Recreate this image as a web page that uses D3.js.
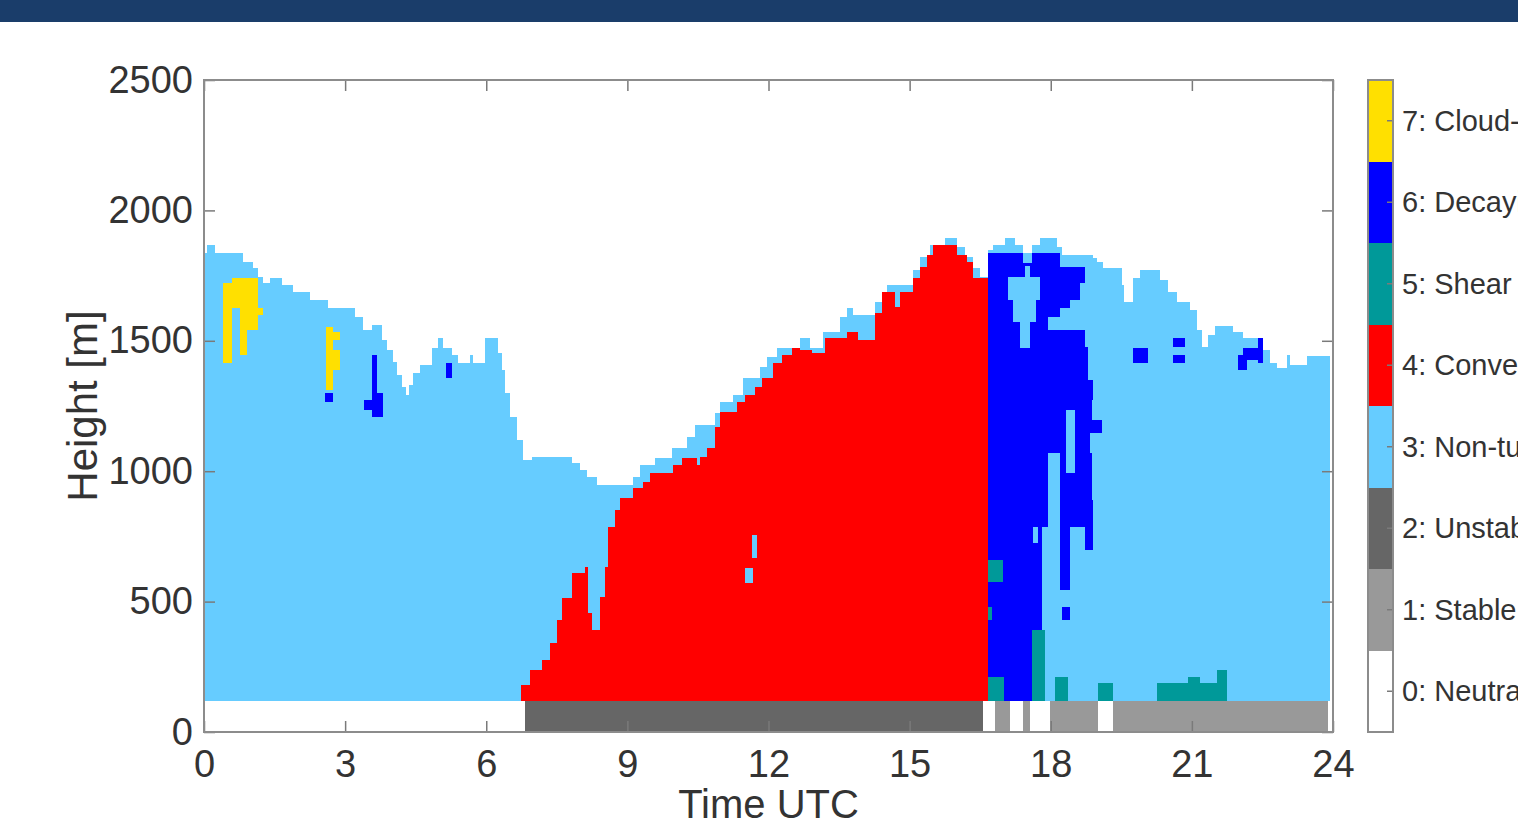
<!DOCTYPE html>
<html>
<head>
<meta charset="utf-8">
<script src="https://cdn.jsdelivr.net/npm/d3@7"></script>
<style>
  html, body { margin: 0; padding: 0; background: #fff; overflow: hidden; }
  svg { display: block; font-family: 'Liberation Sans', Arial, sans-serif; }
</style>
</head>
<body>
<svg id="chart" width="1518" height="828"></svg>
<script>
// class labels / colours (0 = bottom of the colour bar)
const classNames = ['0: Neutral', '1: Stable', '2: Unstable', '3: Non-turbulent',
  '4: Convective', '5: Shear driven', '6: Decaying', '7: Cloud-driven'];
const classColors = ['#ffffff', '#999999', '#666666', '#66ccff', '#ff0000', '#009999', '#0000ff', '#ffe000'];

const hourTicks = [0, 3, 6, 9, 12, 15, 18, 21, 24];
const heightTicks = [0, 500, 1000, 1500, 2000, 2500];
const surfaceTop = 120;

// top of the boundary layer (non-turbulent class) [hour, m]
const layerTop = [[0,1836],[0.06,1867],[0.23,1836],[0.83,1802],[1.04,1779],[1.15,1745],[1.25,1721],[1.40,1741],
  [1.66,1714],[1.89,1687],[2.25,1656],[2.64,1626],[3.21,1591],[3.38,1541],[3.57,1560],[3.78,1503],[3.89,1465],
  [4.02,1419],[4.10,1369],[4.21,1323],[4.29,1292],[4.36,1330],[4.44,1376],[4.59,1407],[4.85,1472],[4.97,1511],
  [5.08,1472],[5.27,1445],[5.40,1415],[5.65,1445],[5.72,1415],[5.97,1511],[6.25,1453],[6.34,1388],[6.40,1300],
  [6.51,1208],[6.65,1120],[6.78,1043],[6.97,1054],[7.82,1031],[7.99,1004],[8.14,978],[8.35,947],[9.12,978],
  [9.27,1024],[9.59,1050],[9.95,1089],[10.27,1131],[10.44,1177],[10.86,1223],[10.97,1265],[11.25,1292],
  [11.46,1357],[11.82,1399],[11.97,1438],[12.18,1472],[12.67,1511],[12.88,1472],[13.16,1534],[13.52,1591],
  [13.67,1626],[13.80,1599],[14.26,1649],[14.41,1687],[14.52,1714],[15.07,1771],[15.22,1821],[15.43,1867],
  [15.75,1894],[16.01,1860],[16.18,1821],[16.35,1779],[16.50,1745],[16.67,1848],[16.77,1867],[17.03,1894],
  [17.24,1867],[17.41,1829],[17.60,1867],[17.77,1894],[18.13,1860],[18.24,1829],[18.90,1817],[18.98,1802],
  [19.11,1779],[19.52,1714],[19.56,1649],[19.75,1741],[19.90,1771],[20.32,1733],[20.49,1687],[20.68,1649],
  [20.96,1618],[21.11,1541],[21.22,1476],[21.34,1522],[21.49,1557],[21.87,1534],[22.09,1511],[22.51,1465],
  [22.66,1415],[22.81,1396],[23.02,1445],[23.09,1407],[23.45,1442],[23.94,1442]];

// top of convective mixing [hour, m]
const convTop = [[6.74,180],[6.93,238],[7.19,276],[7.36,341],[7.50,429],[7.61,514],[7.82,610],[8.10,633],
  [8.16,456],[8.25,391],[8.42,518],[8.52,633],[8.59,786],[8.74,851],[8.84,897],[9.12,935],[9.33,959],
  [9.48,993],[9.97,1024],[10.16,1050],[10.48,1024],[10.54,1054],[10.69,1089],[10.86,1169],[10.97,1227],
  [11.33,1265],[11.50,1292],[11.71,1323],[11.86,1357],[12.10,1415],[12.29,1445],[12.50,1472],[12.67,1465],
  [12.93,1453],[13.20,1511],[13.67,1534],[13.90,1503],[14.26,1606],[14.41,1687],[14.69,1629],[14.80,1687],
  [15.07,1741],[15.22,1783],[15.37,1829],[15.50,1867],[16.01,1829],[16.22,1802],[16.35,1741],[16.67,1741]];

// decaying turbulence: starts at 16.67 h, right edge per height [m, hour]
const decayStart = 16.67;
const decayEdge = [[120,17.81],[786,17.94],[1070,18.83],[1146,19.09],[1196,18.88],[1273,18.90],[1350,18.79],
  [1476,18.73],[1541,17.94],[1591,18.20],[1626,18.41],[1656,18.62],[1721,18.73],[1783,18.20],[1836,18.20]];

// smaller patches [class, hour from, hour to, m from, m to]
const patches = [
  [7,0.40,0.60,1415,1721],[7,0.60,1.15,1626,1741],[7,0.77,0.91,1445,1626],[7,0.91,1.15,1541,1626],
  [7,1.15,1.25,1599,1626],[7,2.59,2.74,1311,1553],[7,2.74,2.89,1503,1534],[7,2.74,2.89,1388,1465],
  [6,2.57,2.74,1265,1300],[6,3.57,3.68,1300,1445],[6,3.40,3.57,1235,1273],[6,3.57,3.81,1208,1300],
  [6,5.14,5.27,1357,1415],
  [3,11.65,11.75,667,755],[3,11.49,11.66,571,629],
  [6,18.20,18.88,850,1070],[6,18.41,18.90,786,889],[6,18.20,18.41,544,851],[6,18.73,18.90,698,786],
  [6,18.24,18.41,429,479],
  [3,17.09,17.77,1656,1745],[3,17.20,17.69,1572,1656],[3,17.35,17.56,1472,1572],[3,17.45,17.56,1741,1787],
  [3,17.41,17.60,1798,1836],[3,18.33,18.52,993,1235],[3,17.62,17.73,725,786],
  [5,16.67,16.98,575,660],[5,16.67,16.75,429,479],[5,16.67,17.00,120,211],[5,17.60,17.88,120,391],
  [5,18.09,18.37,120,211],[5,19.00,19.32,120,188],[5,20.26,21.75,120,188],[5,20.92,21.17,188,211],
  [5,21.53,21.75,188,238],
  [6,19.75,20.07,1415,1472],[6,20.60,20.85,1476,1511],[6,20.60,20.85,1415,1445],[6,21.98,22.17,1388,1445],
  [6,22.09,22.51,1426,1472],[6,22.40,22.51,1415,1511]
];

// surface layer stability [class, hour from, hour to]
const surface = [[0,0,6.82],[2,6.82,16.56],[0,16.56,16.82],[1,16.82,17.13],[0,17.13,17.41],[1,17.41,17.56],
  [0,17.56,17.98],[1,17.98,19.0],[0,19.0,19.32],[1,19.32,23.89],[0,23.89,24]];

const svg = d3.select('#chart');
const mLeft = 204, mRight = 1333, mTop = 80, mBottom = 732;

svg.append('rect').attr('x', 0).attr('y', 0).attr('width', 1518).attr('height', 22).attr('fill', '#1a3d6a');

const x = d3.scaleLinear().domain([0, 24]).range([mLeft, mRight]);
const y = d3.scaleLinear().domain([0, 2500]).range([mBottom, mTop]);

const plot = svg.append('g').attr('shape-rendering', 'crispEdges');

// non-turbulent layer
plot.append('path').datum(layerTop)
  .attr('fill', classColors[3])
  .attr('d', d3.area().curve(d3.curveStepAfter).x(d => x(d[0])).y0(y(surfaceTop)).y1(d => y(d[1])));

// convective mixing
plot.append('path').datum(convTop)
  .attr('fill', classColors[4])
  .attr('d', d3.area().curve(d3.curveStepAfter).x(d => x(d[0])).y0(y(surfaceTop)).y1(d => y(d[1])));

// decaying turbulence
plot.append('path').datum(decayEdge)
  .attr('fill', classColors[6])
  .attr('d', d3.area().curve(d3.curveStepBefore).y(d => y(d[0])).x0(x(decayStart)).x1(d => x(d[1])));

plot.selectAll('rect.patch').data(patches).join('rect')
  .attr('class', 'patch')
  .attr('x', d => x(d[1])).attr('width', d => x(d[2]) - x(d[1]))
  .attr('y', d => y(d[4])).attr('height', d => y(d[3]) - y(d[4]))
  .attr('fill', d => classColors[d[0]]);

plot.selectAll('rect.sfc').data(surface).join('rect')
  .attr('class', 'sfc')
  .attr('x', d => x(d[1])).attr('width', d => x(d[2]) - x(d[1]))
  .attr('y', y(surfaceTop)).attr('height', y(0) - y(surfaceTop))
  .attr('fill', d => classColors[d[0]]);

// axes
const tickColor = '#7a7a7a', labelColor = '#333';
function styleAxis(g, size) {
  g.select('.domain').remove();
  g.selectAll('line').attr('stroke', tickColor).attr('stroke-width', 1.5);
  g.selectAll('text').attr('fill', labelColor).attr('font-size', size).attr('font-family', "'Liberation Sans', Arial, sans-serif");
}
svg.append('g').attr('transform', `translate(0,${mBottom})`)
  .call(d3.axisBottom(x).tickValues(hourTicks).tickSize(-11).tickPadding(18).tickFormat(d3.format('d')))
  .call(g => styleAxis(g, 38));
svg.append('g').attr('transform', `translate(0,${mTop})`)
  .call(d3.axisTop(x).tickValues(hourTicks).tickSize(-11).tickFormat(''))
  .call(g => styleAxis(g, 38));
svg.append('g').attr('transform', `translate(${mLeft},0)`)
  .call(d3.axisLeft(y).tickValues(heightTicks).tickSize(-11).tickPadding(11).tickFormat(d3.format('d')))
  .call(g => styleAxis(g, 38));
svg.append('g').attr('transform', `translate(${mRight},0)`)
  .call(d3.axisRight(y).tickValues(heightTicks).tickSize(-11).tickFormat(''))
  .call(g => styleAxis(g, 38));

svg.append('rect').attr('x', mLeft).attr('y', mTop).attr('width', mRight - mLeft).attr('height', mBottom - mTop)
  .attr('fill', 'none').attr('stroke', '#8c8c8c').attr('stroke-width', 2);

svg.append('text').attr('x', (mLeft + mRight) / 2).attr('y', 818).attr('text-anchor', 'middle')
  .attr('font-size', 40).attr('fill', labelColor).text('Time UTC');
svg.append('text').attr('transform', `translate(97,${(mTop + mBottom) / 2}) rotate(-90)`).attr('text-anchor', 'middle')
  .attr('font-size', 42).attr('fill', labelColor).text('Height [m]');

// colour bar
const cb = d3.scaleLinear().domain([0, classNames.length]).range([mBottom, mTop]);
const cbX = 1368, cbW = 25;
const cbar = svg.append('g');
cbar.selectAll('rect').data(classNames).join('rect')
  .attr('x', cbX).attr('width', cbW)
  .attr('y', (d, i) => cb(i + 1)).attr('height', (d, i) => cb(i) - cb(i + 1))
  .attr('fill', (d, i) => classColors[i]).attr('shape-rendering', 'crispEdges');
cbar.selectAll('line').data(classNames).join('line')
  .attr('x1', cbX + cbW - 6).attr('x2', cbX + cbW)
  .attr('y1', (d, i) => cb(i + 0.5)).attr('y2', (d, i) => cb(i + 0.5))
  .attr('stroke', tickColor).attr('stroke-width', 1.5);
cbar.append('rect').attr('x', cbX).attr('y', mTop).attr('width', cbW).attr('height', mBottom - mTop)
  .attr('fill', 'none').attr('stroke', '#8c8c8c').attr('stroke-width', 2);
cbar.selectAll('text').data(classNames).join('text')
  .attr('x', cbX + cbW + 9).attr('y', (d, i) => cb(i + 0.5)).attr('dy', '0.35em')
  .attr('font-size', 29).attr('fill', labelColor).text(d => d);
</script>
</body>
</html>
